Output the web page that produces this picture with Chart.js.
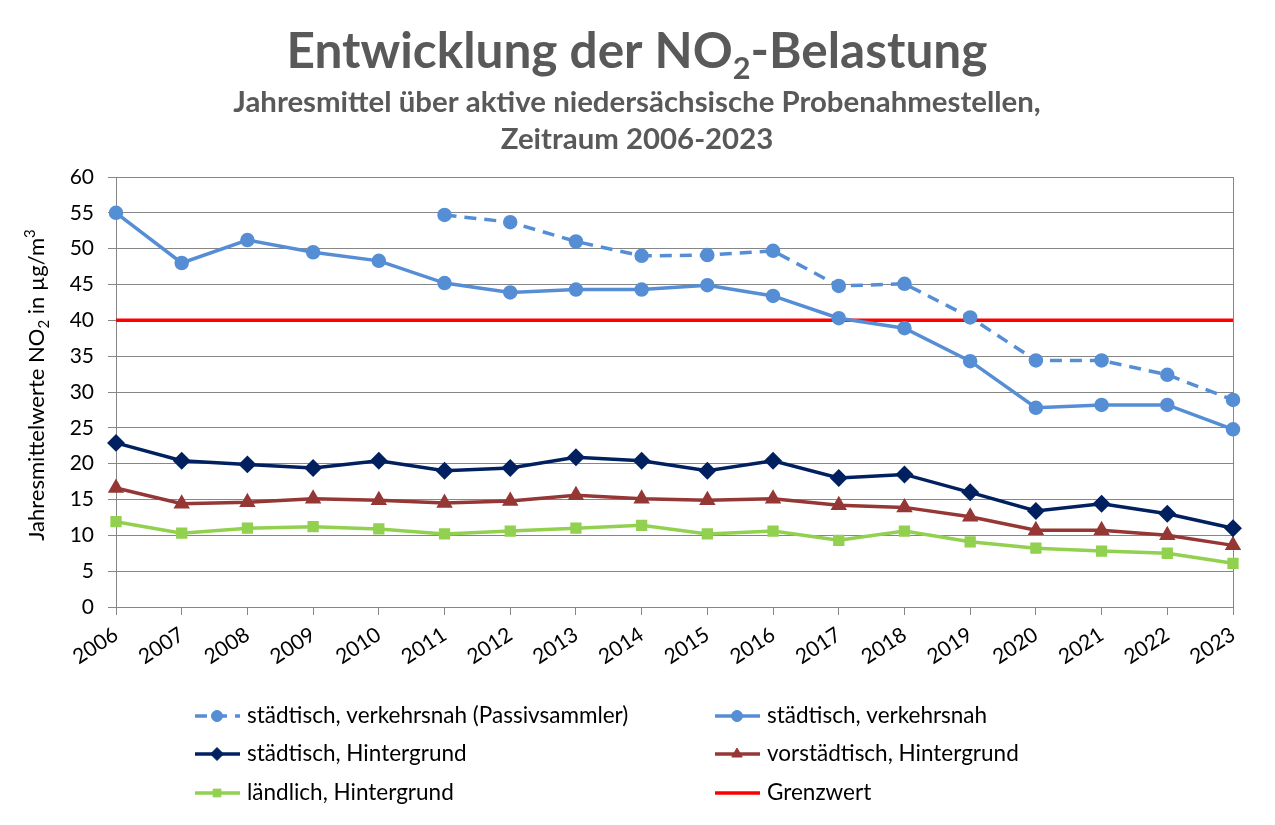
<!DOCTYPE html>
<html>
<head>
<meta charset="utf-8">
<script src="https://cdn.jsdelivr.net/npm/chart.js@4/dist/chart.umd.min.js"></script>
<style>
  body { margin: 0; background: #fff; }
  canvas { display: block; }
</style>
</head>
<body>
<canvas id="no2chart" width="1275" height="825"></canvas>
<script>
// Jahresmittelwerte NO2 in µg/m³
var years = ["2006", "2007", "2008", "2009", "2010", "2011", "2012", "2013", "2014",
             "2015", "2016", "2017", "2018", "2019", "2020", "2021", "2022", "2023"];

var passivsammler = [null, null, null, null, null, 54.7, 53.7, 51.0, 49.0,
                     49.1, 49.7, 44.8, 45.1, 40.4, 34.4, 34.4, 32.4, 28.9];
var verkehrsnah = [55.0, 48.0, 51.2, 49.5, 48.3, 45.2, 43.9, 44.3, 44.3,
                   44.9, 43.4, 40.3, 38.9, 34.3, 27.8, 28.2, 28.2, 24.8];
var staedtHintergrund = [22.9, 20.4, 19.9, 19.4, 20.4, 19.0, 19.4, 20.9, 20.4,
                         19.0, 20.4, 18.0, 18.5, 16.0, 13.4, 14.4, 13.0, 11.0];
var vorstaedtHintergrund = [16.6, 14.4, 14.6, 15.1, 14.9, 14.5, 14.8, 15.6, 15.1,
                            14.9, 15.1, 14.2, 13.9, 12.6, 10.7, 10.7, 10.0, 8.6];
var laendlHintergrund = [11.9, 10.3, 11.0, 11.2, 10.9, 10.2, 10.6, 11.0, 11.4,
                         10.2, 10.6, 9.3, 10.6, 9.1, 8.2, 7.8, 7.5, 6.1];
var grenzwert = [40, 40, 40, 40, 40, 40, 40, 40, 40, 40, 40, 40, 40, 40, 40, 40, 40, 40];

var yTicks = [0, 5, 10, 15, 20, 25, 30, 35, 40, 45, 50, 55, 60];

var FONT = "Lato, 'Open Sans', sans-serif";
var GRID = "#868686";

// draw text made of parts (for sub/superscripts), centred at x
function drawParts(ctx, parts, x, y) {
    var total = 0;
    parts.forEach(function (p) {
        ctx.font = p.font;
        p.w = ctx.measureText(p.t).width;
        total += p.w;
    });
    var cx = x - total / 2;
    parts.forEach(function (p) {
        ctx.font = p.font;
        ctx.fillText(p.t, cx, y + (p.dy || 0));
        cx += p.w;
    });
}

// pick font size so that the text gets the wanted width
function fitSize(ctx, text, weight, target) {
    ctx.font = weight + " 40px " + FONT;
    return 40 * target / ctx.measureText(text).width;
}

var decoPlugin = {
    id: "deco",
    afterDraw: function (chart) {
        var ctx = chart.ctx;
        ctx.save();
        ctx.textAlign = "left";
        ctx.textBaseline = "alphabetic";

        // title
        ctx.fillStyle = "#595959";
        var s = fitSize(ctx, "Entwicklung der NO2-Belastung", "bold", 712);
        drawParts(ctx, [
            { t: "Entwicklung der NO", font: "bold " + s + "px " + FONT },
            { t: "2", font: "bold " + (s * 0.62) + "px " + FONT, dy: s * 0.22 },
            { t: "-Belastung", font: "bold " + s + "px " + FONT }
        ], 637, 68);

        var line1 = "Jahresmittel über aktive niedersächsische Probenahmestellen,";
        var s2 = fitSize(ctx, line1, "bold", 808);
        ctx.font = "bold " + s2 + "px " + FONT;
        ctx.textAlign = "center";
        ctx.fillText(line1, 637, 112);
        ctx.fillText("Zeitraum 2006-2023", 637, 149);

        // y axis title
        ctx.textAlign = "left";
        ctx.fillStyle = "#000";
        ctx.save();
        ctx.translate(44, 385);
        ctx.rotate(-Math.PI / 2);
        drawParts(ctx, [
            { t: "Jahresmittelwerte NO", font: "22px " + FONT },
            { t: "2", font: "15px " + FONT, dy: 5 },
            { t: " in µg/m", font: "22px " + FONT },
            { t: "3", font: "15px " + FONT, dy: -9 }
        ], 0, 0);
        ctx.restore();

        // legend in two columns
        var cols = [195, 715];
        var rows = [716, 754, 793];
        chart.data.datasets.forEach(function (ds, i) {
            var x0 = cols[i % 2];
            var y = rows[Math.floor(i / 2)];
            ctx.strokeStyle = ds.borderColor;
            ctx.lineWidth = ds.borderWidth;
            ctx.setLineDash(ds.borderDash || []);
            ctx.beginPath();
            ctx.moveTo(x0, y);
            ctx.lineTo(x0 + 45, y);
            ctx.stroke();
            ctx.setLineDash([]);
            if (ds.pointRadius > 0) {
                ctx.fillStyle = ds.pointBackgroundColor;
                ctx.strokeStyle = ds.pointBackgroundColor;
                ctx.lineWidth = 1;
                Chart.helpers.drawPoint(ctx, {
                    pointStyle: ds.pointStyle,
                    radius: ds.pointRadius,
                    rotation: 0,
                    borderWidth: 1
                }, x0 + 22, y);
            }
            ctx.fillStyle = "#000";
            ctx.font = "22.5px " + FONT;
            ctx.textBaseline = "middle";
            ctx.fillText(ds.label, x0 + 52, y);
        });
        ctx.restore();
    }
};

function lineSet(label, data, color, style, radius, dash) {
    return {
        label: label,
        data: data,
        borderColor: color,
        backgroundColor: color,
        pointBackgroundColor: color,
        pointBorderColor: color,
        borderWidth: 3.5,
        borderDash: dash,
        pointStyle: style,
        pointRadius: radius,
        pointHoverRadius: radius,
        tension: 0,
        spanGaps: false
    };
}

var ctx = document.getElementById("no2chart").getContext("2d");

var myChart = new Chart(ctx, {
    type: "line",
    data: {
        labels: years,
        datasets: [
            lineSet("städtisch, verkehrsnah (Passivsammler)", passivsammler, "#558ED5", "circle", 5.5, [12, 8]),
            lineSet("städtisch, verkehrsnah", verkehrsnah, "#558ED5", "circle", 5.5),
            lineSet("städtisch, Hintergrund", staedtHintergrund, "#002060", "rectRot", 6.5),
            lineSet("vorstädtisch, Hintergrund", vorstaedtHintergrund, "#953735", "triangle", 6),
            lineSet("ländlich, Hintergrund", laendlHintergrund, "#92D050", "rect", 5.5),
            lineSet("Grenzwert", grenzwert, "#FF0000", "circle", 0)
        ]
    },
    options: {
        responsive: false,
        animation: false,
        layout: {
            padding: { top: 177, right: 42, bottom: 0, left: 0 }
        },
        plugins: {
            legend: { display: false },
            title: { display: false },
            tooltip: { enabled: false }
        },
        scales: {
            x: {
                offset: false,
                border: { display: true, color: GRID, width: 1 },
                grid: {
                    drawOnChartArea: true,
                    color: function (c) {
                        return c.index === years.length - 1 ? GRID : "rgba(0,0,0,0)";
                    },
                    tickColor: GRID,
                    tickLength: 8
                },
                ticks: {
                    color: "#000",
                    font: { family: FONT, size: 21 },
                    maxRotation: 33,
                    minRotation: 33,
                    padding: 7,
                    autoSkip: false
                },
                afterFit: function (scale) { scale.height = 218; }
            },
            y: {
                min: 0,
                max: 60,
                afterBuildTicks: function (scale) {
                    scale.ticks = yTicks.map(function (v) { return { value: v }; });
                },
                border: { display: true, color: GRID, width: 1 },
                grid: { color: GRID, tickColor: GRID, tickLength: 8 },
                ticks: {
                    color: "#000",
                    font: { family: FONT, size: 21 },
                    padding: 14
                },
                afterFit: function (scale) { scale.width = 116; }
            }
        }
    },
    plugins: [decoPlugin]
});
</script>
</body>
</html>
